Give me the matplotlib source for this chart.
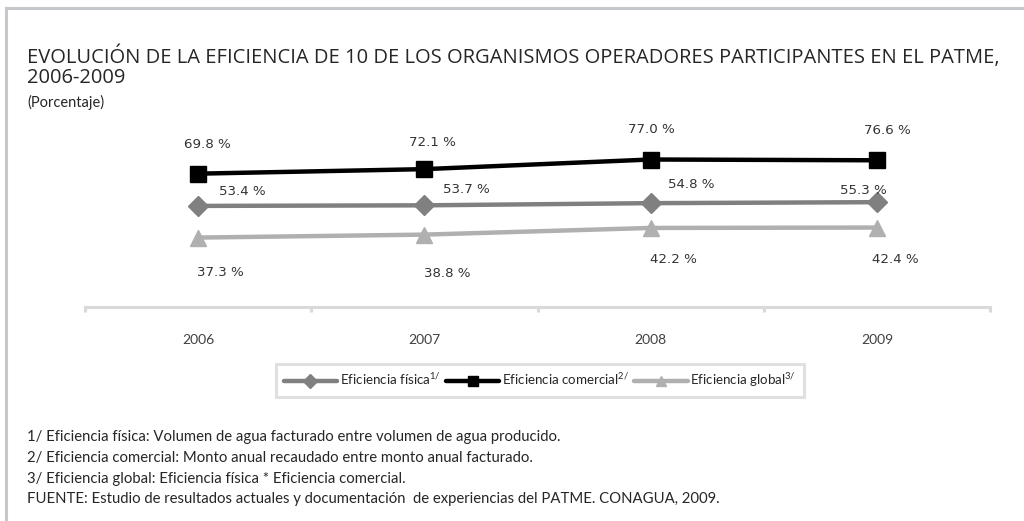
import matplotlib
matplotlib.use("Agg")
import matplotlib.pyplot as plt
from matplotlib.lines import Line2D
from matplotlib.ticker import FixedLocator

# --- data -------------------------------------------------------------
years = ["2006", "2007", "2008", "2009"]
ef_fisica = [53.4, 53.7, 54.8, 55.3]
ef_comercial = [69.8, 72.1, 77.0, 76.6]
ef_global = [37.3, 38.8, 42.2, 42.4]

series_names = [r"Eficiencia física$^{\mathregular{1/}}$",
                r"Eficiencia comercial$^{\mathregular{2/}}$",
                r"Eficiencia global$^{\mathregular{3/}}$"]

title_line1 = "EVOLUCIÓN DE LA EFICIENCIA DE 10 DE LOS ORGANISMOS OPERADORES PARTICIPANTES EN EL PATME,"
title_line2 = "2006-2009"
subtitle = "(Porcentaje)"
notes = [
    "1/ Eficiencia física: Volumen de agua facturado entre volumen de agua producido.",
    "2/ Eficiencia comercial: Monto anual recaudado entre monto anual facturado.",
    "3/ Eficiencia global: Eficiencia física * Eficiencia comercial.",
    "FUENTE: Estudio de resultados actuales y documentación  de experiencias del PATME. CONAGUA, 2009.",
]

# --- style ------------------------------------------------------------
W, H, DPI = 1024, 521, 100
PX = 72.0 / DPI  # pixels -> points
TEXT_COL = "#404040"
AXIS_COL = "#d9d9d9"
FONT_TITLE = ["Open Sans", "DejaVu Sans"]
FONT_BODY = ["Lato", "DejaVu Sans"]

fig = plt.figure(figsize=(W / DPI, H / DPI), dpi=DPI)
fig.patch.set_facecolor("white")

def fx(px):
    return px / W

def fy(py):
    return 1 - py / H

ax = fig.add_axes([fx(85), fy(307), fx(990) - fx(85), fy(130) - fy(307)])
x = list(range(len(years)))

styles = [
    dict(data=ef_fisica, color="#808080", marker="D", ms=10,
         offsets=[(44, 14), (42, 16), (41, 19), (-14, 12)]),
    dict(data=ef_comercial, color="#000000", marker="s", ms=11,
         offsets=[(9, 29), (8, 27), (1, 30), (11, 30)]),
    dict(data=ef_global, color="#b0b0b0", marker="^", ms=11.5,
         offsets=[(22, -35), (23, -39), (23, -32), (18, -32)]),
]

handles = []
for st, name in zip(styles, series_names):
    ln, = ax.plot(x, st["data"], color=st["color"], lw=3.2,
                  marker=st["marker"], ms=st["ms"], label=name,
                  solid_capstyle="round", zorder=3)
    handles.append(ln)
    for xi, v, (dx, dy) in zip(x, st["data"], st["offsets"]):
        ax.annotate(f"{v:.1f} %", (xi, v), xytext=(dx * PX, dy * PX),
                    textcoords="offset points", ha="center", va="center",
                    fontsize=9.6, color="#333333", family="DejaVu Sans")

ax.set_xlim(-0.5, len(years) - 0.5)
ax.set_ylim(2, 92)

for side in ["left", "right", "top"]:
    ax.spines[side].set_visible(False)
ax.spines["bottom"].set_color(AXIS_COL)
ax.spines["bottom"].set_linewidth(2.2)
ax.set_yticks([])

ax.set_xticks(x)
ax.set_xticklabels(years, fontsize=10, color=TEXT_COL, family=FONT_BODY)
ax.tick_params(axis="x", which="major", length=0, pad=27 * PX)
ax.xaxis.set_minor_locator(FixedLocator([i - 0.5 for i in range(len(years) + 1)]))
ax.tick_params(axis="x", which="minor", length=5 * PX, width=2.2,
               color=AXIS_COL, direction="out")

leg = fig.legend(handles=handles, loc="center", ncol=3,
                 bbox_to_anchor=(fx(540), fy(380.5)),
                 bbox_transform=fig.transFigure, frameon=True, fancybox=False,
                 edgecolor=AXIS_COL, handlelength=4.0, columnspacing=0.4,
                 handletextpad=0.2, borderpad=0.6,
                 prop={"family": FONT_BODY, "size": 9.6})
leg.get_frame().set_linewidth(2.2)
for t in leg.get_texts():
    t.set_color("#262626")
for h in leg.legend_handles:
    h.set_markersize(7)

# titles
fig.text(fx(27), fy(57), title_line1, fontsize=14.5, family=FONT_TITLE,
         color="#262626", ha="left", va="center")
fig.text(fx(27), fy(78), title_line2, fontsize=14.5, family=FONT_TITLE,
         color="#262626", ha="left", va="center")
fig.text(fx(27), fy(102), subtitle, fontsize=10.5, family=FONT_BODY,
         color="#262626", ha="left", va="center")

# footnotes
for i, note in enumerate(notes):
    fig.text(fx(27), fy(437 + 20.8 * i), note, fontsize=10.7, family=FONT_BODY,
             color="#262626", ha="left", va="center")

# panel frame (left and top edges)
fig.add_artist(Line2D([fx(6), fx(6)], [0, fy(8)], color="#c4c8cc", lw=2.2,
                      transform=fig.transFigure))
fig.add_artist(Line2D([fx(6), 1], [fy(8), fy(8)], color="#c4c8cc", lw=2.2,
                      transform=fig.transFigure))

fig.savefig("out.png", dpi=DPI, facecolor="white")
